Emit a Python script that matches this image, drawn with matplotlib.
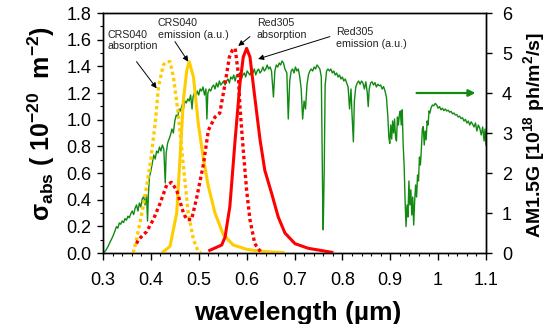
import numpy as np
import matplotlib.pyplot as plt
from matplotlib.ticker import MultipleLocator

plt.rcParams['font.family'] = ['Liberation Sans', 'DejaVu Sans']
plt.rcParams['mathtext.fontset'] = 'custom'
plt.rcParams['mathtext.rm'] = 'Liberation Sans'
plt.rcParams['mathtext.bf'] = 'Liberation Sans:bold'
plt.rcParams['mathtext.it'] = 'Liberation Sans:italic'

# AM1.5G photon flux (10^18 ph/m2/s)
am_wl = [0.300, 0.305, 0.310, 0.315, 0.320, 0.325, 0.328, 0.331, 0.334, 0.337,
         0.340, 0.343, 0.346, 0.349, 0.352, 0.355, 0.358, 0.361, 0.364, 0.367,
         0.370, 0.373, 0.376, 0.379, 0.382, 0.385, 0.388, 0.391, 0.393, 0.395,
         0.397, 0.400, 0.403, 0.406, 0.409, 0.412, 0.415, 0.418, 0.421, 0.424,
         0.427, 0.430, 0.432, 0.435, 0.438, 0.441, 0.444, 0.447, 0.450, 0.453,
         0.456, 0.459, 0.462, 0.465, 0.468, 0.471, 0.474, 0.477, 0.480, 0.483,
         0.486, 0.488, 0.491, 0.494, 0.497, 0.500, 0.503, 0.506, 0.509, 0.512,
         0.515, 0.517, 0.519, 0.522, 0.525, 0.528, 0.531, 0.534, 0.537, 0.540,
         0.543, 0.546, 0.549, 0.552, 0.555, 0.558, 0.561, 0.564, 0.567, 0.570,
         0.573, 0.576, 0.579, 0.582, 0.585, 0.589, 0.592, 0.595, 0.598, 0.601,
         0.604, 0.607, 0.610, 0.613, 0.616, 0.619, 0.622, 0.625, 0.628, 0.631,
         0.634, 0.637, 0.640, 0.643, 0.646, 0.649, 0.652, 0.656, 0.659, 0.662,
         0.665, 0.668, 0.671, 0.674, 0.677, 0.680, 0.684, 0.687, 0.690, 0.693,
         0.696, 0.699, 0.702, 0.705, 0.708, 0.711, 0.714, 0.717, 0.720, 0.723,
         0.726, 0.729, 0.732, 0.735, 0.738, 0.741, 0.744, 0.747, 0.750, 0.753,
         0.756, 0.759, 0.760, 0.762, 0.764, 0.767, 0.770, 0.773, 0.776, 0.779,
         0.782, 0.785, 0.788, 0.791, 0.794, 0.797, 0.800, 0.803, 0.806, 0.809,
         0.812, 0.815, 0.818, 0.820, 0.823, 0.825, 0.828, 0.831, 0.834, 0.837,
         0.840, 0.843, 0.846, 0.849, 0.852, 0.854, 0.856, 0.859, 0.862, 0.865,
         0.868, 0.871, 0.874, 0.877, 0.880, 0.883, 0.886, 0.889, 0.892, 0.895,
         0.897, 0.899, 0.901, 0.903, 0.905, 0.907, 0.909, 0.911, 0.913, 0.915,
         0.917, 0.919, 0.921, 0.923, 0.925, 0.927, 0.929, 0.931, 0.933, 0.935,
         0.937, 0.939, 0.941, 0.943, 0.945, 0.947, 0.949, 0.951, 0.953, 0.955,
         0.957, 0.959, 0.961, 0.963, 0.965, 0.967, 0.969, 0.971, 0.973, 0.975,
         0.977, 0.979, 0.981, 0.983, 0.985, 0.988, 0.991, 0.994, 0.997, 1.000,
         1.003, 1.006, 1.009, 1.012, 1.015, 1.018, 1.021, 1.024, 1.027, 1.030,
         1.033, 1.036, 1.039, 1.042, 1.045, 1.048, 1.051, 1.054, 1.057, 1.060,
         1.063, 1.066, 1.069, 1.072, 1.075, 1.078, 1.081, 1.084, 1.087, 1.090,
         1.093, 1.096, 1.098, 1.100]
am_flux = [0.00, 0.05, 0.15, 0.28, 0.40, 0.55, 0.66, 0.62, 0.75, 0.72,
           0.80, 0.76, 0.86, 0.82, 0.92, 0.88, 0.98, 1.05, 0.96, 1.12,
           1.20, 1.05, 1.25, 1.15, 1.35, 1.42, 1.20, 1.45, 0.80, 1.50,
           1.90, 2.05, 2.25, 2.45, 2.35, 2.55, 2.50, 2.65, 2.55, 2.70,
           2.60, 1.75, 2.50, 2.75, 2.85, 2.95, 3.10, 3.00, 3.30, 3.45,
           3.40, 3.60, 3.55, 3.70, 3.60, 3.80, 3.75, 3.85, 3.80, 3.95,
           3.60, 3.90, 4.00, 3.90, 4.05, 3.95, 4.10, 4.05, 4.15, 3.95,
           4.10, 3.35, 4.00, 4.10, 4.05, 4.15, 4.20, 4.10, 4.25, 4.15,
           4.30, 4.20, 4.25, 4.30, 4.20, 4.30, 4.35, 4.25, 4.40, 4.35,
           4.45, 4.30, 4.45, 4.40, 4.50, 4.35, 4.45, 4.50, 4.40, 4.55,
           4.50, 4.45, 4.55, 4.50, 4.60, 4.45, 4.55, 4.60, 4.50, 4.55,
           4.65, 4.55, 4.60, 4.70, 4.60, 4.65, 4.55, 3.90, 4.55, 4.70,
           4.65, 4.75, 4.70, 4.80, 4.75, 4.60, 4.50, 3.35, 4.30, 4.55,
           4.60, 4.50, 4.65, 4.55, 4.60, 4.40, 4.10, 3.35, 3.80, 3.60,
           4.20, 4.45, 4.55, 4.60, 4.55, 4.65, 4.60, 4.70, 4.65, 4.60,
           4.40, 1.20, 0.58, 2.00, 4.20, 4.55, 4.60, 4.55, 4.60, 4.50,
           4.55, 4.45, 4.50, 4.40, 4.45, 4.35, 4.40, 4.30, 4.35, 4.25,
           4.15, 3.60, 4.10, 3.50, 2.78, 3.80, 4.15, 4.25, 4.30, 4.22,
           4.30, 4.25, 4.10, 4.28, 4.00, 3.66, 4.10, 4.25, 4.28, 4.20,
           4.26, 4.15, 4.22, 4.18, 4.20, 4.10, 4.16, 4.05, 3.90, 3.40,
           2.90, 2.74, 3.20, 2.85, 3.30, 3.00, 3.35, 2.90, 2.80, 3.40,
           3.20, 3.45, 3.55, 3.20, 3.58, 2.70, 2.20, 1.30, 0.66, 1.20,
           0.90, 1.80, 1.20, 1.58, 0.95, 1.40, 0.70, 1.30, 1.70, 1.40,
           1.95, 1.80, 2.40, 2.20, 2.60, 3.10, 3.16, 2.70, 3.05, 2.83,
           3.30, 3.20, 3.55, 3.50, 3.62, 3.70, 3.68, 3.74, 3.70, 3.62,
           3.66, 3.58, 3.62, 3.56, 3.60, 3.55, 3.57, 3.52, 3.54, 3.48,
           3.50, 3.45, 3.46, 3.40, 3.42, 3.36, 3.38, 3.30, 3.34, 3.25,
           3.30, 3.20, 3.28, 3.22, 3.15, 3.25, 3.05, 3.20, 3.12, 2.95,
           3.15, 2.80, 3.10, 2.70]

# CRS040 absorption cross-section (1e-20 m2)
crs_abs_wl = [0.363, 0.370, 0.384, 0.398, 0.409, 0.416, 0.426, 0.433, 0.440,
              0.447, 0.457, 0.468, 0.478, 0.489, 0.499, 0.505]
crs_abs = [0.00, 0.10, 0.35, 0.65, 0.97, 1.25, 1.41, 1.435, 1.435,
           1.32, 1.05, 0.65, 0.30, 0.10, 0.01, 0.00]

# CRS040 emission (a.u.)
crs_em_wl = [0.426, 0.440, 0.454, 0.461, 0.468, 0.475, 0.480, 0.489, 0.499,
             0.510, 0.520, 0.534, 0.551, 0.572, 0.600, 0.624, 0.650, 0.676]
crs_em = [0.01, 0.05, 0.30, 0.72, 1.15, 1.37, 1.435, 1.32, 0.97,
          0.70, 0.50, 0.30, 0.14, 0.06, 0.028, 0.015, 0.008, 0.003]

# Red305 absorption cross-section (1e-20 m2)
red_abs_wl = [0.370, 0.374, 0.391, 0.405, 0.419, 0.433, 0.443, 0.454, 0.468,
              0.475, 0.485, 0.496, 0.510, 0.520, 0.534, 0.544, 0.555, 0.564,
              0.570, 0.576, 0.5825, 0.586, 0.593, 0.600, 0.607, 0.617, 0.631]
red_abs = [0.07, 0.10, 0.16, 0.25, 0.37, 0.51, 0.53, 0.47, 0.30,
           0.25, 0.25, 0.42, 0.67, 0.92, 1.02, 1.05, 1.27, 1.47,
           1.52, 1.535, 1.35, 1.10, 0.77, 0.47, 0.25, 0.07, 0.00]

# Red305 emission (a.u.)
red_em_wl = [0.523, 0.548, 0.555, 0.565, 0.576, 0.586, 0.593, 0.600, 0.607,
             0.617, 0.628, 0.638, 0.652, 0.666, 0.680, 0.701, 0.729, 0.757, 0.778]
red_em = [0.02, 0.06, 0.12, 0.35, 0.85, 1.27, 1.47, 1.535, 1.47,
          1.17, 0.85, 0.62, 0.45, 0.27, 0.15, 0.07, 0.035, 0.018, 0.005]

xticks = [0.3, 0.4, 0.5, 0.6, 0.7, 0.8, 0.9, 1.0, 1.1]
xtick_labels = ['0.3', '0.4', '0.5', '0.6', '0.7', '0.8', '0.9', '1', '1.1']

green = '#118a11'
yellow = '#ffcc00'
red = '#ff0000'

fig = plt.figure(figsize=(5.52, 3.24), dpi=100)
ax = fig.add_axes([103 / 552, 1 - 253 / 324, 383 / 552, 240 / 324])
ax2 = ax.twinx()
ax.set_zorder(ax2.get_zorder() + 1)
ax.patch.set_visible(False)

dots = (0, (1.0, 0.9))
ax2.plot(am_wl, am_flux, color=green, lw=1.0)
ax.plot(crs_abs_wl, crs_abs, color=yellow, lw=2.4, ls=dots)
ax.plot(crs_em_wl, crs_em, color=yellow, lw=2.2)
ax.plot(red_abs_wl, red_abs, color=red, lw=2.4, ls=dots)
ax.plot(red_em_wl, red_em, color=red, lw=2.2)

ax.set_xlim(0.3, 1.1)
ax.set_ylim(0, 1.8)
ax2.set_ylim(0, 6)

ax.set_xticks(xticks)
ax.set_xticklabels(xtick_labels)
ax.xaxis.set_minor_locator(MultipleLocator(0.02))
ax.set_yticks(np.arange(0, 1.81, 0.2))
ax.set_yticklabels(['%.1f' % v for v in np.arange(0, 1.81, 0.2)])
ax.yaxis.set_minor_locator(MultipleLocator(0.1))
ax2.set_yticks(range(0, 7))

ax.tick_params(axis='x', which='major', direction='out', length=5, width=1, pad=9, labelsize=13)
ax.tick_params(axis='x', which='minor', direction='out', length=2.5, width=0.8)
ax.tick_params(axis='y', which='major', direction='out', length=4.5, width=1, pad=4, labelsize=13)
ax.tick_params(axis='y', which='minor', direction='out', length=2.5, width=0.8)
ax2.tick_params(axis='y', direction='out', length=4.5, width=1, pad=7, labelsize=13)
for a in (ax, ax2):
    for s in a.spines.values():
        s.set_linewidth(1.0)

ax.set_xlabel('wavelength (µm)', fontsize=19, fontweight='bold')
ax.xaxis.label.set_va('center')
ax.xaxis.set_label_coords(0.508, -0.25)
ax.set_ylabel(r'σ$_{\mathbf{abs}}$ ( 10$^{\mathbf{-20}}$  m$^{\mathbf{-2}}$)', fontsize=18, fontweight='bold')
ax.yaxis.label.set_va('center')
ax.yaxis.set_label_coords(-0.16, 0.54)
ax2.set_ylabel(r'AM1.5G [10$^{\mathbf{18}}$ ph/m$^{\mathbf{2}}$/s]', fontsize=14, fontweight='bold')
ax2.yaxis.label.set_va('center')
ax2.yaxis.set_label_coords(1.125, 0.49)

# labels with arrows
arrow = dict(arrowstyle='-|>', color='black', lw=0.7, mutation_scale=8, shrinkA=0, shrinkB=0)
tsize = 7.7
ax.text(0.310, 1.675, 'CRS040\nabsorption', fontsize=tsize, ha='left', va='top', color='#222222')
ax.annotate('', xy=(0.412, 1.235), xytext=(0.370, 1.435), arrowprops=arrow)
ax.text(0.4148, 1.763, 'CRS040\nemission (a.u.)', fontsize=tsize, ha='left', va='top', color='#222222')
ax.annotate('', xy=(0.478, 1.435), xytext=(0.4503, 1.585), arrowprops=arrow)
ax.text(0.6215, 1.763, 'Red305\nabsorption', fontsize=tsize, ha='left', va='top', color='#222222')
ax.annotate('', xy=(0.5825, 1.553), xytext=(0.607, 1.623), arrowprops=arrow)
ax.text(0.7864, 1.695, 'Red305\nemission (a.u.)', fontsize=tsize, ha='left', va='top', color='#222222')
ax.annotate('', xy=(0.624, 1.455), xytext=(0.7739, 1.623), arrowprops=arrow)

# arrow pointing to the right axis
ax2.annotate('', xy=(1.078, 4.0), xytext=(0.955, 4.0),
             arrowprops=dict(arrowstyle='-|>', color=green, lw=1.6, mutation_scale=10,
                             shrinkA=0, shrinkB=0))

fig.savefig('out.png', dpi=100)
